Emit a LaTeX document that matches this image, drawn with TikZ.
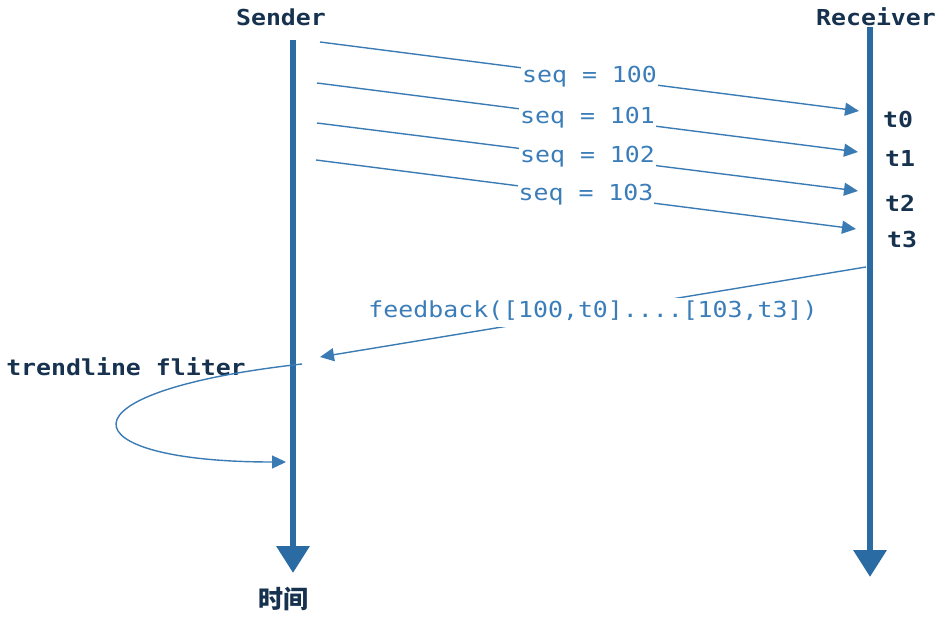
\documentclass[tikz,border=0pt]{standalone}
\usepackage{fontspec}
\usetikzlibrary{arrows.meta}
\newfontfamily\monof[FakeStretch=1.13]{DejaVu Sans Mono}
\newfontfamily\cjkf{Noto Sans CJK SC}
\definecolor{lifec}{HTML}{2A6BA3}
\definecolor{msgc}{HTML}{3B7BB4}
\definecolor{txtc}{HTML}{3A7DB8}
\definecolor{headc}{HTML}{16324F}
\tikzset{
  lifeline/.style={draw=lifec, line width=6.5pt, -{Triangle[length=27pt,width=32pt]}},
  msg/.style={draw=msgc, line width=1.4pt, -{Triangle[length=14pt,width=13pt]}},
  lbl/.style={fill=white, text=txtc, font=\monof\fontsize{22}{24}\selectfont,
    inner xsep=1pt, inner ysep=3pt, text height=16pt, text depth=5pt},
  head/.style={text=headc, font=\monof\bfseries\fontsize{22}{24}\selectfont, inner sep=0pt},
}
\begin{document}
\begin{tikzpicture}[x=1pt,y=-1pt]
\useasboundingbox (0,0) rectangle (945,618);
% lifelines
\coordinate (s0) at (293,40);
\coordinate (s1) at (293,573);
\coordinate (r0) at (870,27);
\coordinate (r1) at (870,577);
\draw[lifeline] (s0) -- (s1);
\draw[lifeline] (r0) -- (r1);
\node[head] (snd) at (281,17) {Sender};
\node[head] (rcv) at (876,17) {Receiver};
% time labels
\node[head] (t0) at (898,119) {t0};
\node[head] (t1) at (900,158) {t1};
\node[head] (t2) at (900,203) {t2};
\node[head] (t3) at (902,239) {t3};
% seq messages
\coordinate (a1) at (320,42);  \coordinate (b1) at (859,111);
\coordinate (a2) at (317,83);  \coordinate (b2) at (858,152);
\coordinate (a3) at (317,123); \coordinate (b3) at (858,191);
\coordinate (a4) at (316,160); \coordinate (b4) at (856,229);
\draw[msg] (a1) -- node[lbl] (l1) {seq = 100} (b1);
\draw[msg] (a2) -- node[lbl] (l2) {seq = 101} (b2);
\draw[msg] (a3) -- node[lbl] (l3) {seq = 102} (b3);
\draw[msg] (a4) -- node[lbl] (l4) {seq = 103} (b4);
% feedback
\coordinate (f0) at (866,267);
\coordinate (f1) at (320,357);
\draw[msg] (f0) -- node[lbl, inner ysep=4pt] (fb) {feedback([100,t0]....[103,t3])} (f1);
% trendline filter loop
\node[head] (tf) at (126,367) {trendline fliter};
\coordinate (c0) at (302,364);
\coordinate (c1) at (50,392);
\coordinate (c2) at (68,462);
\coordinate (c3) at (286,462);
\draw[msg] (c0) .. controls (c1) and (c2) .. (c3);
% time axis label
\node[text=headc, font=\cjkf\bfseries\fontsize{25}{27}\selectfont, inner sep=0pt] (tm) at (283,599) {时间};
\end{tikzpicture}
\end{document}
